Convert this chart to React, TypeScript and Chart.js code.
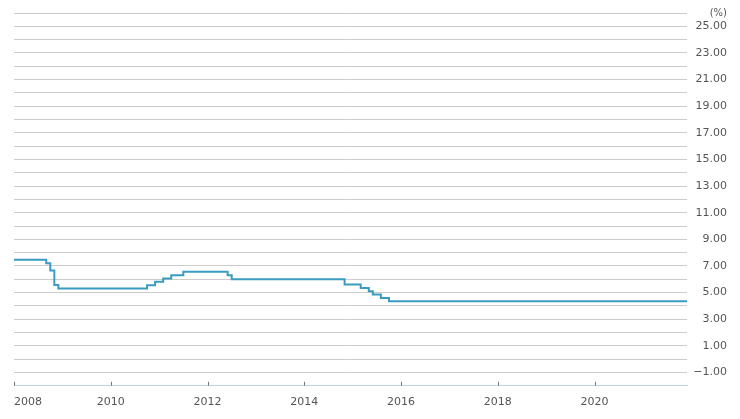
import React, { useEffect, useRef } from "react";
import { Chart, registerables } from "chart.js";

Chart.register(...registerables);

// Benchmark lending rate (%), value in force from the listed month (step changes)
const rateMonths = [
  "2008-01", "2008-09", "2008-10", "2008-11", "2008-12",
  "2010-10", "2010-12", "2011-02", "2011-04", "2011-07",
  "2012-06", "2012-07", "2014-11", "2015-03", "2015-05",
  "2015-06", "2015-08", "2015-10", "2021-12",
];
const rateValues = [
  7.47, 7.2, 6.66, 5.58, 5.31,
  5.56, 5.81, 6.06, 6.31, 6.56,
  6.31, 6.0, 5.6, 5.35, 5.1,
  4.85, 4.6, 4.35, 4.35,
];
const xTickYears = [2008, 2010, 2012, 2014, 2016, 2018, 2020];
const yMin = -2;
const yMax = 26;
const yUnitLabel = "(%)";

const monthToX = (m: string) => {
  const [y, mo] = m.split("-").map(Number);
  return y + (mo - 1) / 12;
};

const FONT = "'DejaVu Sans', sans-serif";

export default function App() {
  const ref = useRef<HTMLCanvasElement | null>(null);

  useEffect(() => {
    if (!ref.current) return;
    const points = rateMonths.map((m, i) => ({ x: monthToX(m), y: rateValues[i] }));
    const xMin = xTickYears[0];
    const xMax = points[points.length - 1].x;

    const tickMarks = {
      id: "tickMarks",
      afterDraw(chart: any) {
        const xs = chart.scales.x;
        const ctx = chart.ctx;
        const bottom = chart.chartArea.bottom;
        ctx.save();
        ctx.strokeStyle = "#777777";
        ctx.lineWidth = 1;
        xTickYears.forEach((v) => {
          const px = Math.round(xs.getPixelForValue(v)) + 0.5;
          ctx.beginPath();
          ctx.moveTo(px, bottom - 4);
          ctx.lineTo(px, bottom);
          ctx.stroke();
        });
        ctx.restore();
      },
    };

    const chart = new Chart(ref.current, {
      type: "line",
      data: {
        datasets: [
          {
            data: points,
            borderColor: "#3a9cc0",
            borderWidth: 2,
            pointRadius: 0,
            stepped: true,
            fill: false,
          },
        ],
      },
      options: {
        animation: false,
        responsive: false,
        maintainAspectRatio: false,
        parsing: false as any,
        layout: { padding: { left: 14, top: 13, right: 13, bottom: 8 } },
        plugins: { legend: { display: false }, tooltip: { enabled: false } },
        scales: {
          x: {
            type: "linear",
            min: xMin,
            max: xMax,
            afterBuildTicks: (scale: any) => {
              scale.ticks = [...xTickYears, xMax].map((v) => ({ value: v }));
            },
            grid: { display: false },
            border: { display: true, color: "#bcd6ea", width: 1 },
            ticks: {
              autoSkip: false,
              maxRotation: 0,
              align: "inner",
              padding: 2,
              color: "#555555",
              font: { family: FONT, size: 11 },
              callback: (v: any) => (xTickYears.includes(Number(v)) ? String(v) : ""),
            },
          },
          y: {
            position: "right",
            min: yMin,
            max: yMax,
            grid: {
              drawTicks: false,
              color: (c: any) => (c.tick && c.tick.value === yMin ? "#bcd6ea" : "#cccccc"),
              lineWidth: 1,
            },
            border: { display: false },
            ticks: {
              stepSize: 1,
              autoSkip: false,
              crossAlign: "far",
              padding: 3,
              color: "#555555",
              font: (c: any) => ({
                family: FONT,
                size: c.tick && c.tick.value === yMax ? 10 : 11,
              }),
              callback: (v: any) => {
                const n = Number(v);
                if (n === yMax) return yUnitLabel;
                if (Math.abs(n) % 2 === 1) return n.toFixed(2).replace("-", "\u2212");
                return "";
              },
            },
          },
        },
      },
      plugins: [tickMarks],
    });
    return () => chart.destroy();
  }, []);

  return (
    <div style={{ position: "fixed", left: 0, top: 0, width: 740, height: 419, background: "#fff" }}>
      <canvas ref={ref} width={740} height={419} style={{ width: 740, height: 419 }} />
    </div>
  );
}
